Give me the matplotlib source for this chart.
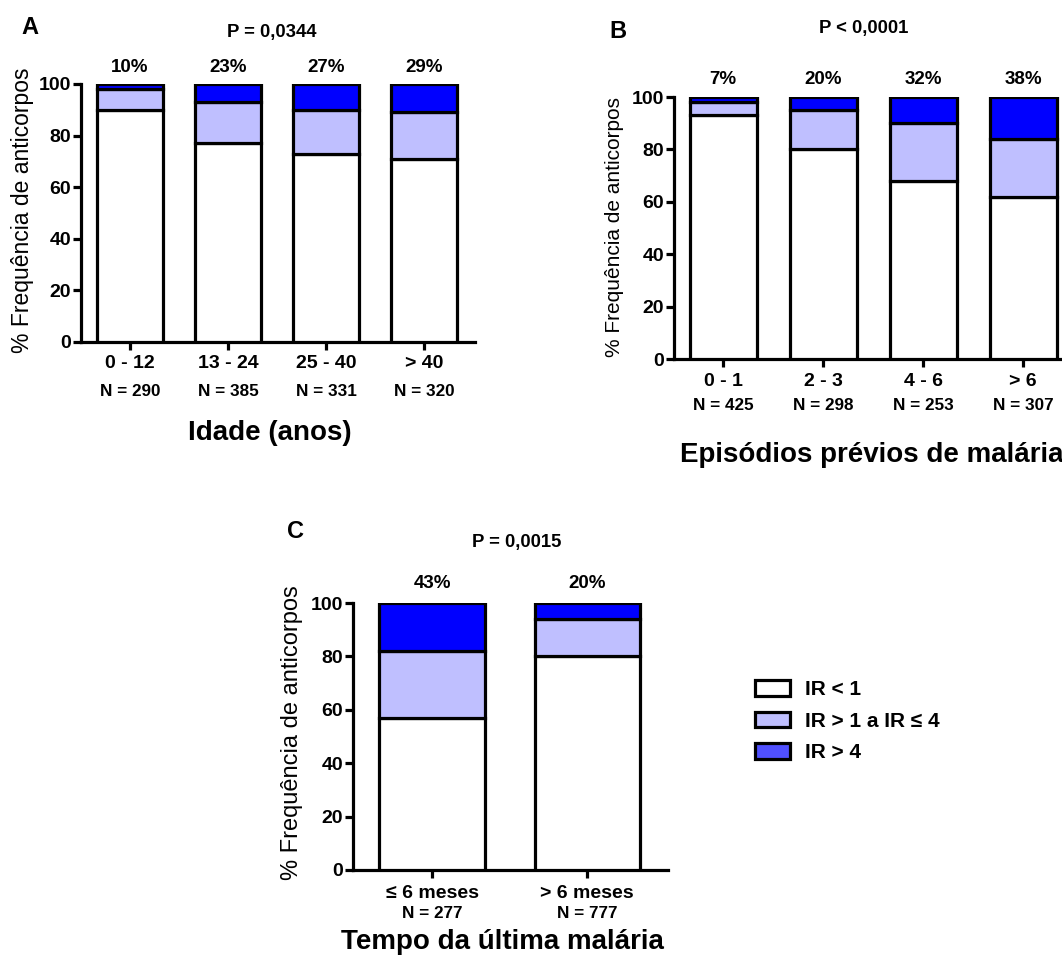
import matplotlib
matplotlib.use("Agg")
import matplotlib.pyplot as plt
from matplotlib.patches import Patch

plt.rcParams['font.family'] = ['Liberation Sans', 'DejaVu Sans']

# ---- data (percent of samples per IR class) ----
a_cats = ['0 - 12', '13 - 24', '25 - 40', '> 40']
a_n = [290, 385, 331, 320]
a_low = [90, 77, 73, 71]
a_mid = [8, 16, 17, 18]
a_high = [2, 7, 10, 11]

b_cats = ['0 - 1', '2 - 3', '4 - 6', '> 6']
b_n = [425, 298, 253, 307]
b_low = [93, 80, 68, 62]
b_mid = [5, 15, 22, 22]
b_high = [2, 5, 10, 16]

c_cats = ['\u2264 6 meses', '> 6 meses']
c_n = [277, 777]
c_low = [57, 80]
c_mid = [25, 14]
c_high = [18, 6]

legend_labels = ['IR < 1', 'IR > 1 a IR \u2264 4', 'IR > 4']

W, H = 1062, 956
C_LOW, C_MID, C_HIGH = 'white', '#BFBFFF', '#0000FF'
LW = 2.3


def px(x, y):
    return x / W, 1 - y / H


def add_axes(left, top, right, bottom):
    return fig.add_axes([left / W, 1 - bottom / H, (right - left) / W, (bottom - top) / H])


def draw_panel(ax, cats, ns, low, mid, high, xlim, width, offs):
    x = list(range(len(cats)))
    kw = dict(width=width, edgecolor='black', linewidth=LW, zorder=3)
    ax.bar(x, low, color=C_LOW, **kw)
    ax.bar(x, mid, bottom=low, color=C_MID, **kw)
    ax.bar(x, high, bottom=[l + m for l, m in zip(low, mid)], color=C_HIGH, **kw)
    ax.set_xlim(*xlim)
    ax.set_ylim(0, 100)
    ax.set_yticks([0, 20, 40, 60, 80, 100])
    ax.set_xticks(x)
    ax.set_xticklabels([])
    for s in ['top', 'right']:
        ax.spines[s].set_visible(False)
    for s in ['left', 'bottom']:
        ax.spines[s].set_linewidth(LW)
    ax.tick_params(axis='both', length=6, width=LW, direction='out')
    ax.tick_params(axis='y', labelsize=14, pad=1)
    for t in ax.get_yticklabels():
        t.set_fontweight('bold')
    ax.patch.set_visible(False)
    p_off, c_off, n_off = offs
    for i in x:
        pct = 100 - low[i]
        ax.annotate(f'{pct}%', xy=(i, 1), xycoords=('data', 'axes fraction'),
                    xytext=(0, p_off * 0.72), textcoords='offset points',
                    ha='center', va='center', fontsize=13.5, fontweight='bold',
                    annotation_clip=False)
        ax.annotate(cats[i], xy=(i, 0), xycoords=('data', 'axes fraction'),
                    xytext=(0, c_off * 0.72), textcoords='offset points',
                    ha='center', va='center', fontsize=14, fontweight='bold',
                    annotation_clip=False)
        ax.annotate(f'N = {ns[i]}', xy=(i, 0), xycoords=('data', 'axes fraction'),
                    xytext=(0, n_off * 0.72), textcoords='offset points',
                    ha='center', va='center', fontsize=12.3, fontweight='bold',
                    annotation_clip=False)


fig = plt.figure(figsize=(W / 100, H / 100), dpi=100)

# Panel A
axa = add_axes(81, 84, 475, 342)
draw_panel(axa, a_cats, a_n, a_low, a_mid, a_high, (-0.5, 3.52), 0.68, (16, -22, -50))
fig.text(*px(30, 27), 'A', fontsize=17, fontweight='bold', ha='center', va='center')
fig.text(*px(272, 32), 'P = 0,0344', fontsize=13.3, fontweight='bold', ha='center', va='center')
fig.text(*px(23, 210), '% Frequência de anticorpos', fontsize=16.5, rotation=90, ha='center', va='center')
fig.text(*px(270, 433), 'Idade (anos)', fontsize=20, fontweight='bold', ha='center', va='center')

# Panel B
axb = add_axes(674, 97, 1075, 359)
draw_panel(axb, b_cats, b_n, b_low, b_mid, b_high, (-0.49, 3.52), 0.67, (18, -23, -47))
fig.text(*px(618, 31), 'B', fontsize=17, fontweight='bold', ha='center', va='center')
fig.text(*px(864, 29), 'P < 0,0001', fontsize=13.3, fontweight='bold', ha='center', va='center')
fig.text(*px(615, 227), '% Frequência de anticorpos', fontsize=15, rotation=90, ha='center', va='center')
fig.text(*px(680, 455), 'Episódios prévios de malária', fontsize=20, fontweight='bold', ha='left', va='center')

# Panel C
axc = add_axes(353, 603, 668, 870)
draw_panel(axc, c_cats, c_n, c_low, c_mid, c_high, (-0.51, 1.52), 0.68, (19, -23, -44))
fig.text(*px(296, 531), 'C', fontsize=17, fontweight='bold', ha='center', va='center')
fig.text(*px(517, 543), 'P = 0,0015', fontsize=13.3, fontweight='bold', ha='center', va='center')
fig.text(*px(292, 733), '% Frequência de anticorpos', fontsize=17, rotation=90, ha='center', va='center')
fig.text(*px(502, 942), 'Tempo da última malária', fontsize=20, fontweight='bold', ha='center', va='center')

# Legend
handles = [Patch(facecolor=c, edgecolor='black', linewidth=LW)
           for c in ['white', '#BFBFFF', '#5050FF']]
fig.legend(handles, legend_labels, loc='upper left', bbox_to_anchor=px(755, 680),
           frameon=False, borderpad=0, borderaxespad=0, handlelength=1.68,
           handleheight=0.77, handletextpad=0.72, labelspacing=0.6,
           prop={'size': 15, 'weight': 'bold'})

fig.savefig('out.png', dpi=100)
